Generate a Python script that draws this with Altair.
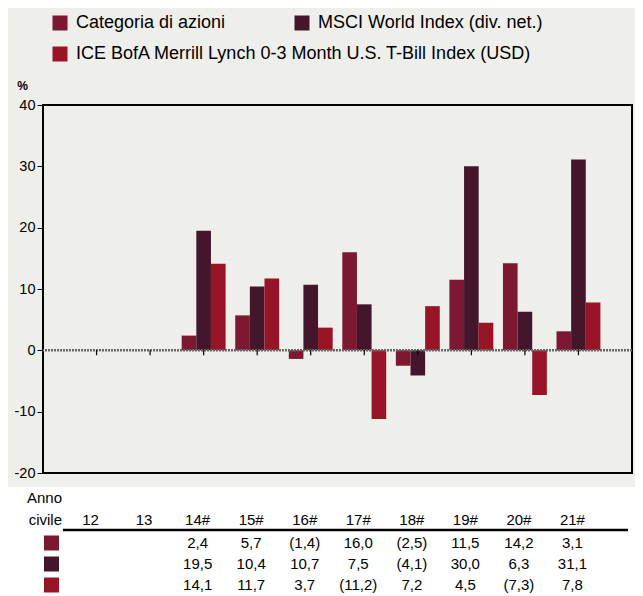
import altair as alt
import pandas as pd

years = ["12", "13", "14#", "15#", "16#", "17#", "18#", "19#", "20#", "21#"]
series = [
    "Categoria di azioni",
    "MSCI World Index (div. net.)",
    "ICE BofA Merrill Lynch 0-3 Month U.S. T-Bill Index (USD)",
]
colors = ["#7d1833", "#44162b", "#981427"]

cat_vals = [None, None, 2.4, 5.7, -1.4, 16.0, -2.5, 11.5, 14.2, 3.1]
msci_vals = [None, None, 19.5, 10.4, 10.7, 7.5, -4.1, 30.0, 6.3, 31.1]
ice_vals = [None, None, 14.1, 11.7, 3.7, -11.2, 7.2, 4.5, -7.3, 7.8]

y_ticks = [-20, -10, 0, 10, 20, 30, 40]

FONT = "Liberation Sans, Arial, sans-serif"


def fmt(v):
    s = f"{abs(v):.1f}".replace(".", ",")
    return f"({s})" if v < 0 else s


rows = []
for s, vals in zip(series, [cat_vals, msci_vals, ice_vals]):
    for y, v in zip(years, vals):
        if v is not None:
            rows.append({"year": y, "series": s, "value": v, "label": fmt(v)})
df = pd.DataFrame(rows)
years_df = pd.DataFrame({"year": years})
one = pd.DataFrame({"a": [0]})

W, H = 589, 368

x_enc = alt.X("year:N", sort=years,
              scale=alt.Scale(domain=years, paddingInner=0.18, paddingOuter=0.59),
              axis=None)
xoff_enc = alt.XOffset("series:N", scale=alt.Scale(domain=series))
y_enc = alt.Y("value:Q", scale=alt.Scale(domain=[-20, 40], nice=False),
              axis=alt.Axis(values=y_ticks, title="%", titleAngle=0, titleX=-21, titleY=-20,
                            titleAlign="center", titleBaseline="middle",
                            titleFont=FONT, titleFontSize=12, titleFontWeight="bold",
                            titleColor="black",
                            labelFont=FONT, labelFontSize=14.5, labelColor="black",
                            labelPadding=2, tickColor="black", tickSize=6,
                            domain=False, grid=False,
                            labelExpr="'' + datum.value"))


def legend(ly):
    return alt.Legend(orient="none", legendX=8, legendY=ly, direction="horizontal",
                      title=None, symbolType="square", symbolSize=225,
                      symbolStrokeWidth=0, symbolOpacity=1,
                      labelFont=FONT, labelFontSize=18, labelColor="black",
                      labelOffset=7, columnPadding=67, labelLimit=700)


bg_table = alt.Chart(one).mark_rect(color="white").encode(
    x=alt.value(-40), x2=alt.value(W + 10), y=alt.value(382), y2=alt.value(H + 140)
)

bars_a = alt.Chart(df).transform_filter(
    alt.FieldOneOfPredicate(field="series", oneOf=series[:2])
).mark_bar(width={"band": 1}).encode(
    x=x_enc, xOffset=xoff_enc, y=y_enc,
    color=alt.Color("series:N", scale=alt.Scale(domain=series[:2], range=colors[:2]),
                    legend=legend(-91)),
)
bars_b = alt.Chart(df).transform_filter(
    alt.datum.series == series[2]
).mark_bar(width={"band": 1}).encode(
    x=x_enc, xOffset=xoff_enc, y=alt.Y("value:Q"),
    color=alt.Color("series:N", scale=alt.Scale(domain=series[2:], range=colors[2:]),
                    legend=legend(-60)),
)

zero = alt.Chart(one).mark_rule(color="#666666", strokeWidth=2.5, strokeDash=[2, 1]).encode(
    y=alt.datum(0)
)

zero_ticks = alt.Chart(years_df).mark_rule(color="black", strokeWidth=1.2).encode(
    x=x_enc, y=alt.datum(0), y2=alt.datum(-0.8)
)

year_text = alt.Chart(years_df).mark_text(font=FONT, fontSize=15, color="black",
                                          dx=-6, baseline="middle").encode(
    x=x_enc, y=alt.value(415), text="year:N"
)

anno = alt.Chart(one).mark_text(font=FONT, fontSize=15, color="black", align="right",
                                baseline="middle").encode(
    x=alt.value(19), y=alt.value(393), text=alt.value("Anno")
)
civile = alt.Chart(one).mark_text(font=FONT, fontSize=15, color="black", align="right",
                                  baseline="middle").encode(
    x=alt.value(19), y=alt.value(415), text=alt.value("civile")
)

header_line = alt.Chart(one).mark_rule(color="black", strokeWidth=2.5).encode(
    x=alt.value(20), x2=alt.value(585), y=alt.value(425)
)

row_y = [438, 459, 480]
layers = [bg_table, bars_a, bars_b, zero, zero_ticks, year_text, anno, civile, header_line]
for s, c, ry in zip(series, colors, row_y):
    sq = alt.Chart(one).mark_square(color=c, opacity=1, size=225).encode(
        x=alt.value(8.5), y=alt.value(ry)
    )
    txt = alt.Chart(df).transform_filter(alt.datum.series == s).mark_text(
        font=FONT, fontSize=15, color="black", dx=-6, baseline="middle"
    ).encode(x=x_enc, y=alt.value(ry), text="label:N")
    layers += [sq, txt]

chart = alt.layer(*layers).resolve_scale(color="independent").properties(
    width=W, height=H,
    autosize=alt.AutoSizeParams(type="none"),
    padding={"left": 35, "top": 97, "right": 3, "bottom": 588 - 97 - H},
).configure(background="#eeeeea").configure_view(stroke="black", strokeWidth=2)

chart.save("out.html", embed_options={"renderer": "svg", "actions": False})
